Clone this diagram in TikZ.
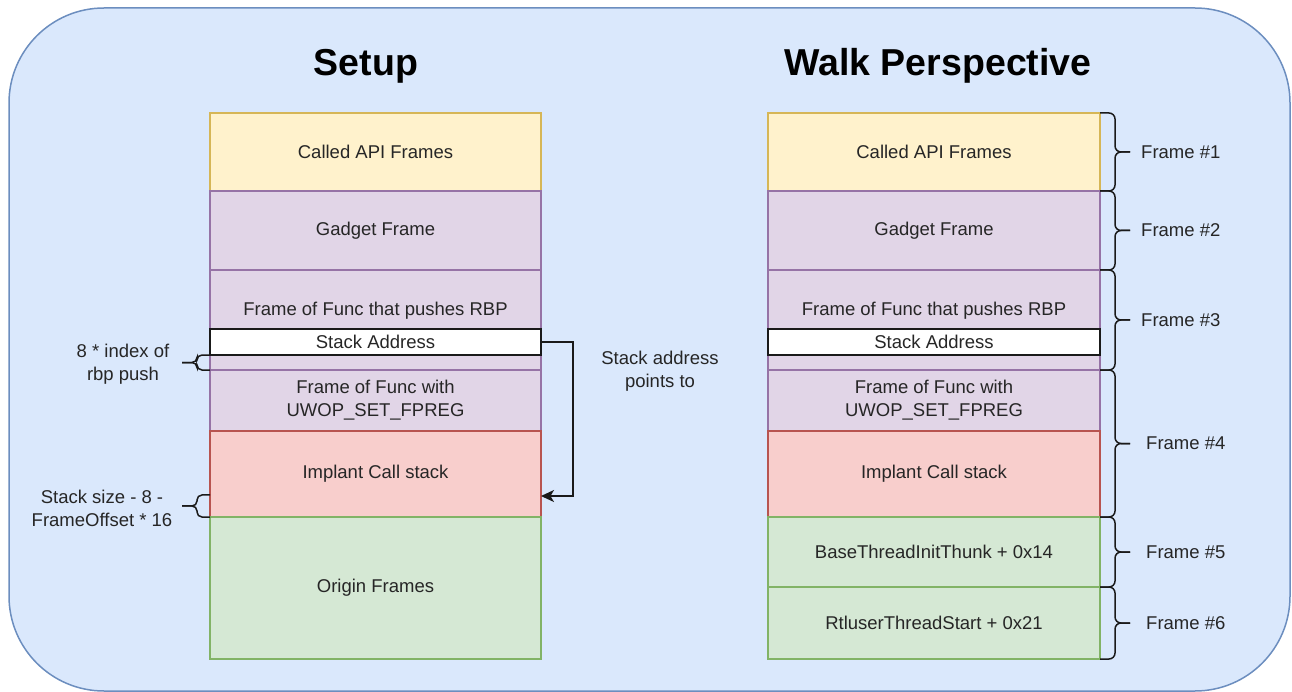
\documentclass[tikz,border=0pt]{standalone}
\usepackage{fontspec}
\setmainfont{Liberation Sans}
\usetikzlibrary{arrows.meta,calc}
\definecolor{bgfill}{HTML}{DAE8FC}
\definecolor{bgline}{HTML}{6C8EBF}
\definecolor{yfill}{HTML}{FFF2CC}
\definecolor{yline}{HTML}{D6B656}
\definecolor{pfill}{HTML}{E1D5E7}
\definecolor{pline}{HTML}{9673A6}
\definecolor{rfill}{HTML}{F8CECC}
\definecolor{rline}{HTML}{B85450}
\definecolor{gfill}{HTML}{D5E8D4}
\definecolor{gline}{HTML}{82B366}
\definecolor{txt}{HTML}{262626}
\definecolor{ink}{HTML}{1A1A1A}
\tikzset{
  stackbox/.style={draw, line width=1.5pt, inner sep=0pt, outer sep=0pt, anchor=north west,
    font=\fontsize{18.5}{23}\selectfont, text=txt, align=center},
  leftcol/.style={stackbox, minimum width=331pt},
  rightcol/.style={stackbox, minimum width=332pt},
  ybox/.style={fill=yfill, draw=yline},
  pbox/.style={fill=pfill, draw=pline},
  rbox/.style={fill=rfill, draw=rline},
  gbox/.style={fill=gfill, draw=gline},
  wbox/.style={fill=white, draw=ink},
  plaintext/.style={font=\fontsize{18.5}{23}\selectfont, text=txt, align=center, inner sep=0pt},
  titletext/.style={font=\bfseries\fontsize{37.5}{44}\selectfont, text=black, inner sep=0pt, anchor=base},
  bracestyle/.style={draw=ink, line width=1.5pt, rounded corners=6pt},
  pointer/.style={draw=ink, line width=1.5pt, -{Stealth[length=13pt,width=12pt,inset=3.5pt]}}
}
\begin{document}
\begin{tikzpicture}[x=1pt,y=-1pt]
\useasboundingbox (0,0) rectangle (1292,692);
% background
\draw[fill=bgfill, draw=bgline, line width=1.5pt, rounded corners=95pt] (9,8) rectangle (1290,691);

% titles
\node[titletext] (setup) at (366,76) {Setup};
\node[titletext] (walk) at (938,76) {Walk Perspective};

% left column
\node[leftcol, ybox, minimum height=78pt] (l1) at (210,113) {Called API Frames};
\node[leftcol, pbox, minimum height=79pt] (l2) at (210,191) {Gadget Frame};
\node[leftcol, pbox, minimum height=100pt] (l3) at (210,270) {};
\node[plaintext] (l3t) at (375.5,311) {Frame of Func that pushes RBP};
\node[leftcol, wbox, minimum height=26pt] (lsa) at (210,329) {Stack Address};
\node[leftcol, pbox, minimum height=61pt] (l4) at (210,370) {Frame of Func with\\UWOP\_SET\_FPREG};
\node[leftcol, rbox, minimum height=86pt] (l5) at (210,431) {Implant Call stack};
\node[leftcol, gbox, minimum height=142pt] (l6) at (210,517) {Origin Frames};

% right column
\node[rightcol, ybox, minimum height=78pt] (r1) at (768,113) {Called API Frames};
\node[rightcol, pbox, minimum height=79pt] (r2) at (768,191) {Gadget Frame};
\node[rightcol, pbox, minimum height=100pt] (r3) at (768,270) {};
\node[plaintext] (r3t) at (934,311) {Frame of Func that pushes RBP};
\node[rightcol, wbox, minimum height=26pt] (rsa) at (768,329) {Stack Address};
\node[rightcol, pbox, minimum height=61pt] (r4) at (768,370) {Frame of Func with\\UWOP\_SET\_FPREG};
\node[rightcol, rbox, minimum height=86pt] (r5) at (768,431) {Implant Call stack};
\node[rightcol, gbox, minimum height=70pt] (r6) at (768,517) {BaseThreadInitThunk + 0x14};
\node[rightcol, gbox, minimum height=72pt] (r7) at (768,587) {RtluserThreadStart + 0x21};

% pointer arrow
\coordinate (tgt) at ($(l5.north east)!0.756!(l5.south east)$);
\draw[pointer] (lsa.east) -- ++(32,0) |- (tgt);
\node[plaintext] (ptr) at (660,371) {Stack address\\points to};

% left braces
\coordinate (a1) at (lsa.south west);
\coordinate (a2) at (l3.south west);
\coordinate (am) at ($(a1)!0.5!(a2)$);
\draw[bracestyle, rounded corners=5pt] (a1) -- ($(a1)+(-13,0)$) -- ($(am)+(-13,0)$) -- ($(am)+(-28,0)$);
\draw[bracestyle, rounded corners=5pt] (a2) -- ($(a2)+(-13,0)$) -- ($(am)+(-13,0)$) -- ($(am)+(-28,0)$);
\node[plaintext] (idx) at (123,364) {8 * index of\\rbp push};

\coordinate (c1) at ($(l5.north west)!0.744!(l5.south west)$);
\coordinate (c2) at (l5.south west);
\coordinate (cm) at ($(c1)!0.5!(c2)$);
\draw[bracestyle, rounded corners=5pt] (c1) -- ($(c1)+(-13,0)$) -- ($(cm)+(-13,0)$) -- ($(cm)+(-28,0)$);
\draw[bracestyle, rounded corners=5pt] (c2) -- ($(c2)+(-13,0)$) -- ($(cm)+(-13,0)$) -- ($(cm)+(-28,0)$);
\node[plaintext] (ssz) at (102,508) {Stack size - 8 -\\FrameOffset * 16};

% right braces
\foreach \t/\b/\lab/\dx/\nm in {r1.north east/r1.south east/{Frame \#1}/41/f1,
                                r2.north east/r2.south east/{Frame \#2}/41/f2,
                                r3.north east/r3.south east/{Frame \#3}/41/f3,
                                r4.north east/r5.south east/{Frame \#4}/46/f4,
                                r6.north east/r6.south east/{Frame \#5}/46/f5,
                                r7.north east/r7.south east/{Frame \#6}/46/f6}{
  \coordinate (bt) at (\t);
  \coordinate (bb) at (\b);
  \coordinate (bm) at ($(bt)!0.5!(bb)$);
  \draw[bracestyle] (bt) -- ($(bt)+(15,0)$) -- ($(bm)+(15,0)$) -- ($(bm)+(30,0)$);
  \draw[bracestyle] (bb) -- ($(bb)+(15,0)$) -- ($(bm)+(15,0)$) -- ($(bm)+(30,0)$);
  \node[plaintext, anchor=west] (\nm) at ($(bm)+(\dx,0)$) {\lab};
}
\end{tikzpicture}
\end{document}
